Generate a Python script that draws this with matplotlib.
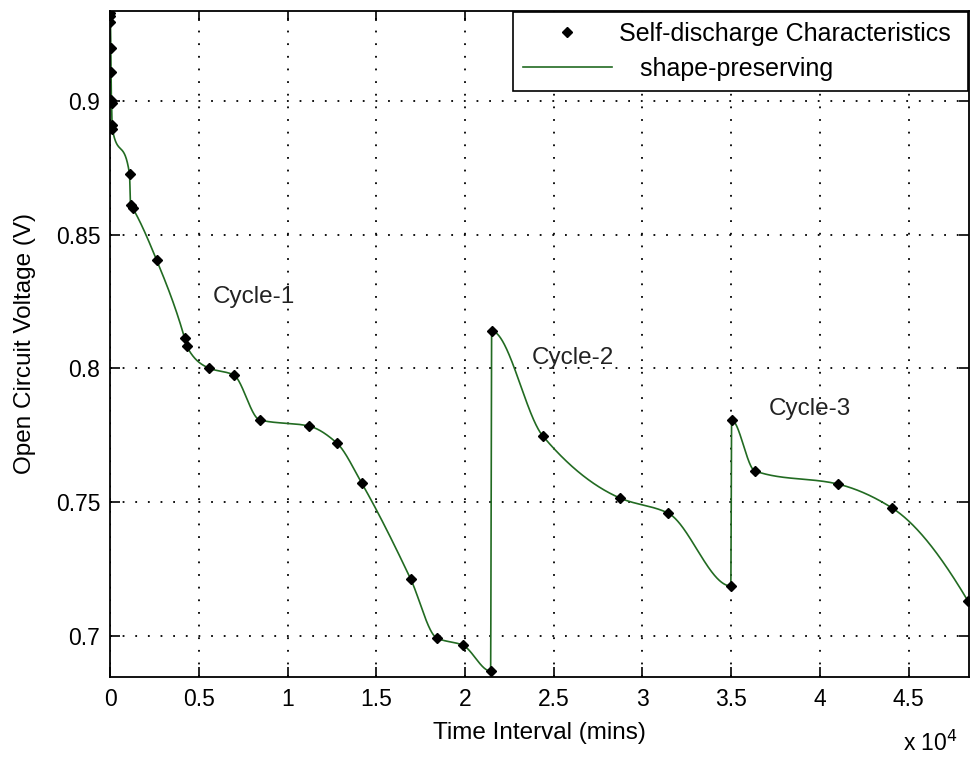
import numpy as np
import matplotlib
matplotlib.use("Agg")
import matplotlib.pyplot as plt
from matplotlib.lines import Line2D

# measured self-discharge points (time in mins, open circuit voltage in V)
time_mins = [0, 10, 25, 45, 60, 75, 90, 110, 130,
             1099, 1156, 1268, 2621, 4200, 4312, 5552, 6962,
             8427, 11189, 12768, 14177, 16939, 18405, 19870, 21443,
             21500, 24380, 28720, 31426, 34977,
             35020, 36330, 41009, 44053, 48337]
voltage = [0.9329, 0.9318, 0.9295, 0.9198, 0.9108, 0.9004, 0.8993, 0.8910, 0.8895,
           0.8727, 0.8611, 0.8600, 0.8406, 0.8114, 0.8084, 0.8002, 0.7976,
           0.7808, 0.7785, 0.7722, 0.7572, 0.7213, 0.6993, 0.6966, 0.6869,
           0.8140, 0.7748, 0.7516, 0.7460, 0.7187,
           0.7807, 0.7617, 0.7568, 0.7479, 0.7131]

cycle_labels = ["Cycle-1", "Cycle-2", "Cycle-3"]
cycle_x = [5780, 23760, 37120]
cycle_y = [0.8267, 0.8039, 0.7849]

x_ticks = [0, 5000, 10000, 15000, 20000, 25000, 30000, 35000, 40000, 45000]
y_ticks = [0.7, 0.75, 0.8, 0.85, 0.9]


def pchip(x, y, xs):
    # shape-preserving piecewise cubic hermite (Fritsch-Carlson, like matlab pchip)
    x = np.asarray(x, float)
    y = np.asarray(y, float)
    h = np.diff(x)
    delta = np.diff(y) / h
    n = len(x)
    d = np.zeros(n)
    for k in range(1, n - 1):
        if delta[k - 1] * delta[k] > 0:
            w1 = 2 * h[k] + h[k - 1]
            w2 = h[k] + 2 * h[k - 1]
            d[k] = (w1 + w2) / (w1 / delta[k - 1] + w2 / delta[k])

    def end_slope(h0, h1, del0, del1):
        s = ((2 * h0 + h1) * del0 - h0 * del1) / (h0 + h1)
        if np.sign(s) != np.sign(del0):
            s = 0.0
        elif np.sign(del0) != np.sign(del1) and abs(s) > abs(3 * del0):
            s = 3 * del0
        return s
    d[0] = end_slope(h[0], h[1], delta[0], delta[1])
    d[-1] = end_slope(h[-1], h[-2], delta[-1], delta[-2])
    idx = np.clip(np.searchsorted(x, xs) - 1, 0, n - 2)
    t = (xs - x[idx]) / h[idx]
    h00 = 2 * t**3 - 3 * t**2 + 1
    h10 = t**3 - 2 * t**2 + t
    h01 = -2 * t**3 + 3 * t**2
    h11 = t**3 - t**2
    return (h00 * y[idx] + h10 * h[idx] * d[idx]
            + h01 * y[idx + 1] + h11 * h[idx] * d[idx + 1])


xs = np.unique(np.concatenate([np.linspace(time_mins[0], time_mins[-1], 5000),
                               np.array(time_mins, float)]))
ys = pchip(time_mins, voltage, xs)

plt.rcParams['font.family'] = ['Liberation Sans', 'DejaVu Sans']
line_col = '#226b22'

fig = plt.figure(figsize=(9.71, 7.58), dpi=100)
ax = fig.add_axes([0.1133, 0.1069, 0.8847, 0.8786])

ax.plot(xs, ys, color=line_col, linewidth=1.2, zorder=2)
ax.plot(time_mins, voltage, linestyle='none', marker='D', markersize=5.2,
        color='black', zorder=3)

for label, cx, cy in zip(cycle_labels, cycle_x, cycle_y):
    ax.text(cx, cy, label, fontsize=17.5, va='center', ha='left', color='#222222')

ax.set_xlim(0, 48400)
ax.set_ylim(0.6847, 0.9336)
ax.set_xticks(x_ticks)
ax.set_xticklabels(["%g" % (t / 1e4) for t in x_ticks])
ax.set_yticks(y_ticks)
ax.set_yticklabels(["%g" % v for v in y_ticks])
ax.tick_params(direction='in', top=True, right=True, length=7, width=1.2,
               labelsize=16.5)
ax.tick_params(axis='x', pad=8)
ax.tick_params(axis='y', pad=7)
ax.grid(True, linestyle=(0, (1, 6)), color='black', linewidth=1.3)
for s in ax.spines.values():
    s.set_linewidth(1.3)

ax.set_xlabel("Time Interval (mins)", fontsize=17.5, labelpad=8)
ax.set_ylabel("Open Circuit Voltage (V)", fontsize=17.5, labelpad=14)
fig.text(0.958, 0.0092, r"x 10$^{4}$", fontsize=16.5, ha='center', va='baseline')

handles = [Line2D([], [], linestyle='none', marker='D', markersize=5.2, color='black'),
           Line2D([], [], color=line_col, linewidth=1.2)]
leg = ax.legend(handles, ["Self-discharge Characteristics ", "   shape-preserving"],
                loc='upper right', fontsize=18, fancybox=False, framealpha=1,
                edgecolor='black', borderaxespad=0.05, handlelength=3.55,
                handletextpad=0.3, borderpad=0.4, labelspacing=0.42)
leg.get_frame().set_linewidth(1.2)

fig.savefig("out.png", dpi=100)
